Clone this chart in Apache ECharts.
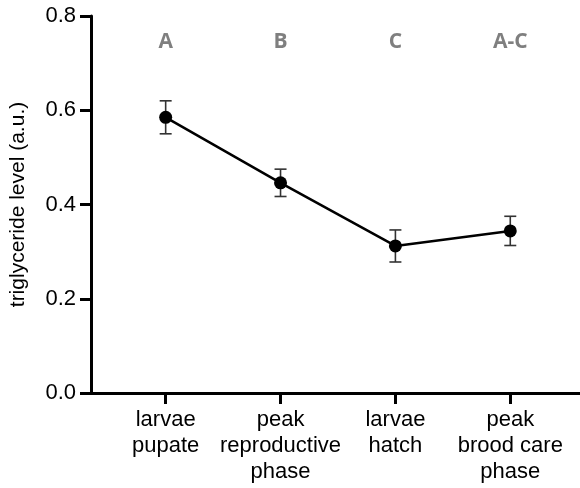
<!DOCTYPE html>
<html><head><meta charset="utf-8">
<script src="https://cdn.jsdelivr.net/npm/echarts@6/dist/echarts.min.js"></script>
<style>html,body{margin:0;padding:0;background:#fff}#c{width:580px;height:488px}</style>
</head><body><div id="c"></div>
<script>
const categories = ['larvae\npupate', 'peak\nreproductive\nphase', 'larvae\nhatch', 'peak\nbrood care\nphase'];
const means = [0.585, 0.446, 0.312, 0.344];
const errors = [0.035, 0.029, 0.034, 0.031];
const letters = ['A', 'B', 'C', 'A-C'];
const letterLevel = 0.745;
const yTicks = [0, 0.2, 0.4, 0.6, 0.8];

const idx = categories.map((_, i) => i);
const chart = echarts.init(document.getElementById('c'), null, {renderer: 'canvas'});
chart.setOption({
  animation: false,
  grid: {left: 88, right: 0, top: 16, bottom: 95, containLabel: false},
  xAxis: {
    type: 'value', min: -0.65, max: 3.607,
    splitLine: {show: false},
    axisLine: {onZero: false, lineStyle: {color: '#000', width: 3}},
    axisTick: {show: true, customValues: idx, length: 11, lineStyle: {color: '#000', width: 3}},
    axisLabel: {customValues: idx, formatter: v => categories[Math.round(v)] || '',
      color: '#000', fontSize: 22, fontFamily: 'Liberation Sans, Arial', lineHeight: 26, margin: 14}
  },
  yAxis: {
    type: 'value', min: 0, max: 0.8, interval: 0.2,
    name: 'triglyceride level (a.u.)', nameLocation: 'middle', nameGap: 62,
    nameTextStyle: {color: '#000', fontSize: 21, fontFamily: 'Liberation Sans, Arial'},
    splitLine: {show: false},
    axisLine: {show: true, onZero: false, lineStyle: {color: '#000', width: 3}},
    axisTick: {show: true, length: 11, lineStyle: {color: '#000', width: 3}},
    axisLabel: {formatter: v => v.toFixed(1), color: '#000', fontSize: 22,
      fontFamily: 'Liberation Sans, Arial', margin: 15}
  },
  series: [
    {
      type: 'custom',
      data: idx.map(i => [i, means[i] - errors[i], means[i] + errors[i]]),
      renderItem: (params, api) => {
        const x = api.value(0);
        const lo = api.coord([x, api.value(1)]);
        const hi = api.coord([x, api.value(2)]);
        const hw = 6;
        const st = {stroke: '#333', lineWidth: 1.6};
        return {type: 'group', children: [
          {type: 'line', shape: {x1: lo[0], y1: lo[1], x2: hi[0], y2: hi[1]}, style: st},
          {type: 'line', shape: {x1: lo[0]-hw, y1: lo[1], x2: lo[0]+hw, y2: lo[1]}, style: st},
          {type: 'line', shape: {x1: hi[0]-hw, y1: hi[1], x2: hi[0]+hw, y2: hi[1]}, style: st}
        ]};
      },
      z: 2
    },
    {
      type: 'line',
      data: idx.map(i => [i, means[i]]),
      symbol: 'circle', symbolSize: 13,
      lineStyle: {color: '#000', width: 2.5},
      itemStyle: {color: '#000'},
      z: 3
    },
    {
      type: 'scatter',
      data: idx.map(i => [i, letterLevel]),
      symbolSize: 0,
      label: {show: true, position: 'inside', formatter: p => letters[p.dataIndex],
        color: '#5f5f5f', fontSize: 21, fontWeight: 'bold', fontFamily: 'Open Sans'},
      z: 4
    }
  ]
});
</script></body></html>
